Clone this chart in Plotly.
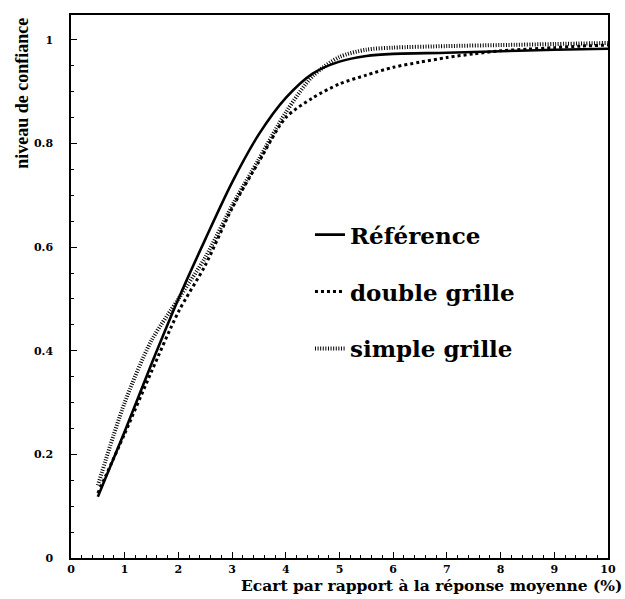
import plotly.graph_objects as go

# Écart (%) et niveau de confiance pour chaque maillage
ref_x = [0.5, 1.0, 1.5, 2.0, 2.5, 3.0, 3.5, 4.0, 4.5, 5.0, 5.5, 6.0, 7.0, 8.0, 9.0, 10.0]
ref_y = [0.118, 0.244, 0.375, 0.50, 0.615, 0.725, 0.818, 0.888, 0.935, 0.958, 0.969, 0.973, 0.975, 0.978, 0.981, 0.983]

double_x = [0.5, 1.0, 1.5, 2.0, 2.5, 3.0, 3.5, 4.0, 4.5, 5.0, 5.5, 6.0, 6.5, 7.0, 7.5, 8.0, 8.5, 9.0, 9.5, 10.0]
double_y = [0.125, 0.24, 0.36, 0.475, 0.565, 0.675, 0.765, 0.85, 0.888, 0.915, 0.932, 0.947, 0.957, 0.966, 0.973, 0.979, 0.982, 0.985, 0.988, 0.99]

simple_x = [0.5, 1.0, 1.5, 2.0, 2.5, 3.0, 3.5, 4.0, 4.5, 5.0, 5.5, 6.0, 7.0, 8.0, 9.0, 10.0]
simple_y = [0.14, 0.30, 0.42, 0.50, 0.58, 0.68, 0.77, 0.86, 0.93, 0.967, 0.981, 0.985, 0.988, 0.99, 0.992, 0.994]

x_ticks = list(range(0, 11))
y_ticks = [0, 0.2, 0.4, 0.6, 0.8, 1]
y_tick_text = ["0", "0.2", "0.4", "0.6", "0.8", "1"]

SERIF_WIDE = "DejaVu Serif, serif"
SERIF = "Liberation Serif, Times New Roman, serif"

fig = go.Figure()
fig.add_trace(go.Scatter(
    x=ref_x, y=ref_y, mode="lines", name="Référence", legendgroup="a",
    line=dict(color="black", width=2.6, shape="spline", smoothing=0.8),
))
fig.add_trace(go.Scatter(
    x=double_x, y=double_y, mode="lines", name="double grille", legendgroup="b",
    line=dict(color="black", width=3, dash="3px,3px", shape="spline", smoothing=0.8),
))
fig.add_trace(go.Scatter(
    x=simple_x, y=simple_y, mode="lines", name="simple grille", legendgroup="c",
    line=dict(color="black", width=4, dash="1px,1.6px", shape="spline", smoothing=0.8),
))

fig.update_layout(
    width=625, height=599,
    margin=dict(l=71, r=9, t=15, b=41),
    paper_bgcolor="white", plot_bgcolor="white",
    font=dict(family=SERIF_WIDE, color="black"),
    showlegend=True,
    legend=dict(
        x=0.445, y=0.635, xanchor="left", yanchor="top",
        font=dict(family=SERIF_WIDE, size=23, color="black", weight="bold"),
        bgcolor="rgba(0,0,0,0)", tracegroupgap=24, itemwidth=30,
    ),
    xaxis=dict(
        range=[0, 10], tickvals=x_ticks, ticktext=[str(v) for v in x_ticks],
        showline=True, linecolor="black", linewidth=1.5, mirror=True,
        ticks="inside", ticklen=6, tickwidth=1, tickcolor="black",
        minor=dict(ticks="inside", dtick=0.2, ticklen=3, tickwidth=1, tickcolor="black"),
        showgrid=False, zeroline=False,
        tickfont=dict(family=SERIF_WIDE, size=11, color="black", weight="bold"),
    ),
    yaxis=dict(
        range=[0, 1.048], tickvals=y_ticks, ticktext=y_tick_text,
        showline=True, linecolor="black", linewidth=1.5, mirror=True,
        ticks="inside", ticklen=6, tickwidth=1, tickcolor="black",
        minor=dict(ticks="inside", dtick=0.05, ticklen=3, tickwidth=1, tickcolor="black"),
        showgrid=False, zeroline=False,
        tickfont=dict(family=SERIF_WIDE, size=11, color="black", weight="bold"),
        ticklabelstandoff=14,
    ),
    annotations=[
        dict(
            text="Ecart par rapport à la réponse moyenne (%)",
            xref="paper", yref="paper", x=1.03, y=-0.03,
            xanchor="right", yanchor="top", showarrow=False,
            font=dict(family=SERIF_WIDE, size=15.5, color="black", weight="bold"),
        ),
        dict(
            text="niveau de confiance",
            xref="paper", yref="paper", x=-0.09, y=0.856,
            xanchor="center", yanchor="middle", textangle=-90, showarrow=False,
            font=dict(family=SERIF, size=18, color="black", weight="bold"),
        ),
    ],
)

fig.write_html("out.html")
